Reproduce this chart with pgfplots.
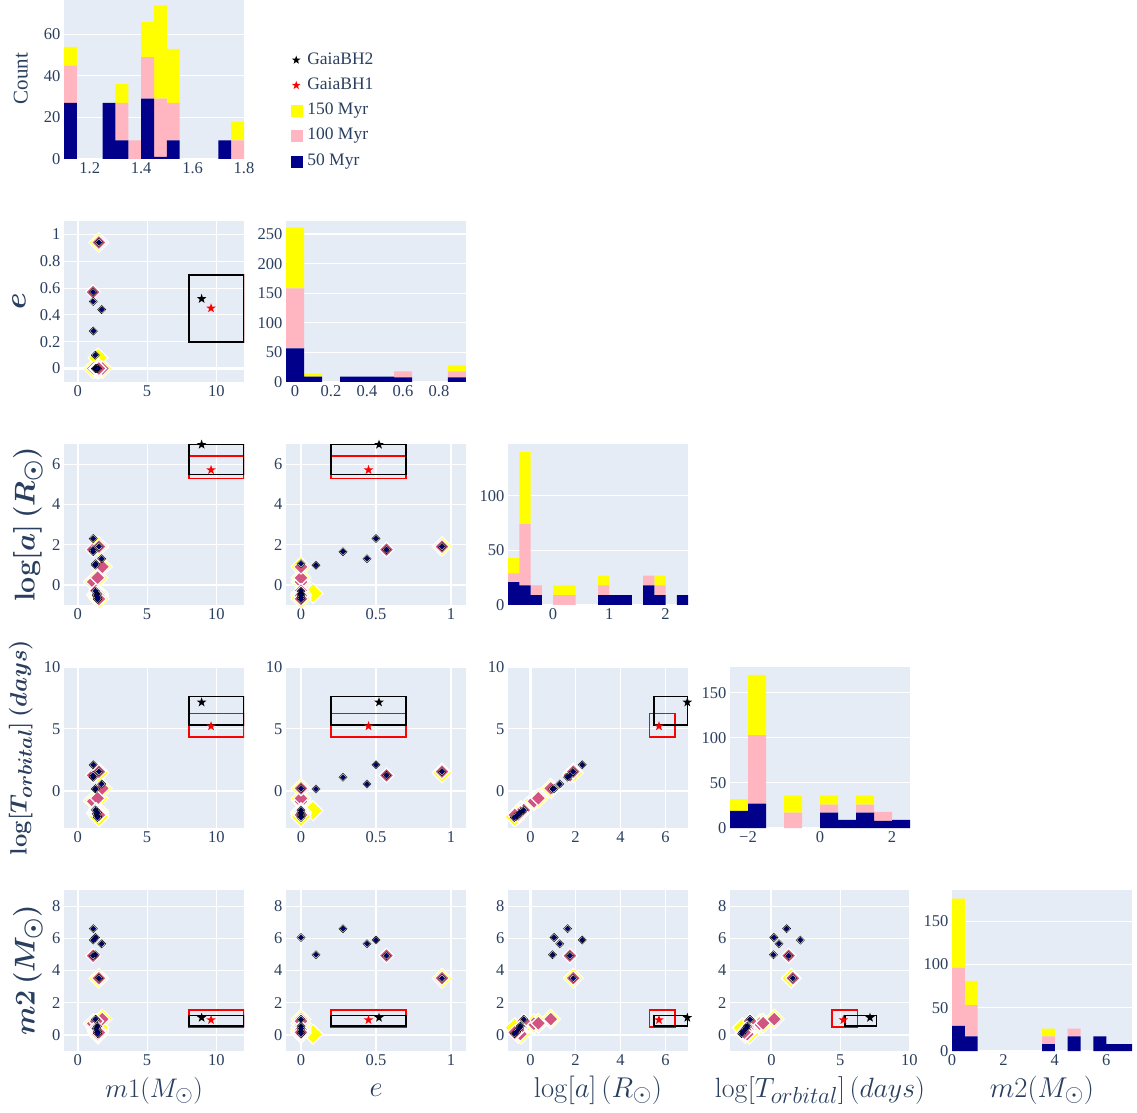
\documentclass[border=0pt]{standalone}
\usepackage{graphicx}
\usepackage[no-math]{fontspec}
\setmainfont{Liberation Serif}
\usepackage{pgfplots}
\pgfplotsset{compat=1.18}
\usepackage{pgfplotstable}
\definecolor{bg}{HTML}{E5ECF6}
\definecolor{tc}{HTML}{2A3F5F}
\definecolor{nv}{HTML}{00008B}
\definecolor{lp}{HTML}{FFB6C1}
\definecolor{yl}{HTML}{FFFF00}
\definecolor{pk}{RGB}{210,84,128}
\definecolor{nvs}{HTML}{000080}

\pgfdeclareplotmark{fstar}{%
  \pgfpathmoveto{\pgfpointpolar{90}{\pgfplotmarksize}}%
  \pgfpathlineto{\pgfpointpolar{126}{0.4\pgfplotmarksize}}%
  \pgfpathlineto{\pgfpointpolar{162}{\pgfplotmarksize}}%
  \pgfpathlineto{\pgfpointpolar{198}{0.4\pgfplotmarksize}}%
  \pgfpathlineto{\pgfpointpolar{234}{\pgfplotmarksize}}%
  \pgfpathlineto{\pgfpointpolar{270}{0.4\pgfplotmarksize}}%
  \pgfpathlineto{\pgfpointpolar{306}{\pgfplotmarksize}}%
  \pgfpathlineto{\pgfpointpolar{342}{0.4\pgfplotmarksize}}%
  \pgfpathlineto{\pgfpointpolar{18}{\pgfplotmarksize}}%
  \pgfpathlineto{\pgfpointpolar{54}{0.4\pgfplotmarksize}}%
  \pgfpathclose\pgfusepathqfill}

% scatter data: m1 e la(log a) lt(log T) m2
\pgfplotstableread{
m1 e la lt m2
1.12 0.28 1.65 1.10 6.60
1.11 0.50 2.30 2.10 5.89
1.72 0.44 1.30 0.55 5.66
1.26 0.10 0.98 0.15 4.98
1.28 0.00 1.05 0.18 6.05
1.10 0.57 1.75 1.25 4.92
1.52 0.94 1.90 1.55 3.52
1.27 0.00 -0.30 -1.55 0.97
1.42 0.00 -0.45 -1.75 0.54
1.33 0.00 -0.50 -1.85 0.40
1.43 0.00 -0.62 -2.05 0.20
1.42 0.00 -0.72 -2.15 0.08
}\navy
\pgfplotstableread{
m1 e la lt m2
1.10 0.57 1.75 1.25 4.92
1.52 0.94 1.90 1.55 3.52
1.12 0.00 0.15 -0.85 0.70
1.43 0.00 0.35 -0.60 0.72
1.77 0.00 0.90 0.20 0.98
1.32 0.00 -0.30 -1.55 0.85
1.33 0.00 -0.45 -1.70 0.45
1.37 0.00 -0.50 -1.75 0.35
1.42 0.00 -0.50 -1.80 0.20
1.46 0.00 -0.55 -1.85 0.10
1.47 0.00 -0.45 -1.75 0.05
1.48 0.00 -0.55 -1.90 0.30
1.52 0.00 -0.70 -1.95 0.15
}\pink
\pgfplotstableread{
m1 e la lt m2
1.52 0.94 1.90 1.45 3.52
1.12 0.00 0.15 -0.80 0.70
1.47 0.00 0.35 -0.60 0.72
1.77 0.00 0.90 0.20 0.98
1.33 0.00 -0.50 -1.80 0.40
1.42 0.00 -0.55 -1.85 0.30
1.44 0.00 -0.45 -1.70 0.20
1.46 0.08 -0.42 -1.60 0.05
1.47 0.00 -0.50 -1.75 0.15
1.48 0.00 -0.55 -1.90 0.10
1.49 0.00 -0.45 -1.70 0.35
1.51 0.00 -0.58 -1.90 0.25
1.53 0.00 -0.70 -2.10 0.45
}\yell
\pgfplotstableread{
m1 e la lt m2
9.62 0.45 5.71 5.22 0.93
}\bha
\pgfplotstableread{
m1 e la lt m2
8.94 0.52 6.97 7.15 1.07
}\bhb

% histograms: bin centre, 50 Myr, 100 Myr, 150 Myr
\pgfplotstableread{
x n p y
1.125 27 18 9
1.175 0 0 0
1.225 0 0 0
1.275 27 0 0
1.325 9 18 9
1.375 0 9 0
1.425 29 20 17
1.475 1 28 45
1.525 9 18 26
1.575 0 0 0
1.625 0 0 0
1.675 0 0 0
1.725 9 0 0
1.775 0 9 9
}\hma
\pgfplotstableread{
x n p y
0.0 57 101 103
0.1 9 0 5
0.2 0 0 0
0.3 9 0 0
0.4 9 0 0
0.5 9 0 0
0.6 8 10 0
0.7 0 0 0
0.8 0 0 0
0.9 8 10 10
}\hmb
\pgfplotstableread{
x n p y
-0.7 21 8 14
-0.5 18 56 66
-0.3 9 9 0
-0.1 0 0 0
0.1 0 9 9
0.3 0 9 9
0.5 0 0 0
0.7 0 0 0
0.9 9 9 9
1.1 9 0 0
1.3 9 0 0
1.5 0 0 0
1.7 18 9 0
1.9 9 9 9
2.1 0 0 0
2.3 9 0 0
}\hmc
\pgfplotstableread{
x n p y
-2.25 19 0 13
-1.75 27 76 67
-1.25 0 0 0
-0.75 0 17 19
-0.25 0 0 0
0.25 17 9 10
0.75 9 0 0
1.25 17 9 10
1.75 8 10 0
2.25 9 0 0
}\hmd
\pgfplotstableread{
x n p y
0.25 29 67 80
0.75 17 36 28
1.25 0 0 0
1.75 0 0 0
2.25 0 0 0
2.75 0 0 0
3.25 0 0 0
3.75 8 9 9
4.25 0 0 0
4.75 17 9 0
5.25 0 0 0
5.75 17 0 0
6.25 8 0 0
6.75 8 0 0
}\hme

\pgfplotsset{
 cp/.style={scale only axis, width=180pt, height=161pt, anchor=south west,
   axis background/.style={fill=bg}, axis line style={draw=none},
   major tick length=0pt,
   tick label style={font=\fontsize{16.5}{16.5}\selectfont, text=tc},
   /pgf/number format/assume math mode=true,
   grid style={white, line width=1.1pt},
   xlabel style={at={(axis description cs:0.5,-0.245)}, anchor=center, font=\fontsize{24.88}{24.88}\selectfont, text=tc},
   ylabel style={at={(axis description cs:-0.2,0.5)}, anchor=center, font=\fontsize{24.88}{24.88}\selectfont\boldmath, text=tc}},
 sc/.style={cp, xmajorgrids, ymajorgrids, extra x ticks={0}, extra y ticks={0},
   extra x tick labels={}, extra y tick labels={},
   extra tick style={grid style={white, line width=2.2pt}}},
 hs/.style={cp, ybar stacked, ymajorgrids, xmajorgrids=false, ymin=0},
 xm1/.style={xmin=-1, xmax=12, xtick={0,5,10}},
 xe/.style={xmin=-0.1, xmax=1.1, xtick={0,0.5,1}},
 xla/.style={xmin=-1, xmax=7, xtick={0,2,4,6}},
 xlt/.style={xmin=-3, xmax=10.05, xtick={0,5,10}},
 ye/.style={ymin=-0.1, ymax=1.1, ytick={0,0.2,0.4,0.6,0.8,1}},
 yla/.style={ymin=-1, ymax=7, ytick={0,2,4,6}},
 ylt/.style={ymin=-3, ymax=10, ytick={0,5,10}},
 ym2/.style={ymin=-1, ymax=9, ytick={0,2,4,6,8}},
}

\newcommand{\scat}[2]{%
 \addplot[only marks, mark=square*, mark size=7pt, mark options={rotate=45, fill=yl, draw=white, line width=1.2pt}] table[x=#1,y=#2]{\yell};
 \addplot[only marks, mark=square*, mark size=5.2pt, mark options={rotate=45, fill=pk, draw=white, line width=1.2pt}] table[x=#1,y=#2]{\pink};
 \addplot[only marks, mark=square*, mark size=2.9pt, mark options={rotate=45, fill=white, draw=none}] table[x=#1,y=#2]{\navy};
 \addplot[only marks, mark=square*, mark size=1.9pt, mark options={rotate=45, fill=nvs, draw=none}] table[x=#1,y=#2]{\navy};}
\newcommand{\bx}[5]{\addplot[#1, line width=1.8pt, no marks, line join=miter, line cap=rect] coordinates {(#2,#4)(#3,#4)(#3,#5)(#2,#5)(#2,#4)};}
\newcommand{\gaia}[2]{%
 \addplot[only marks, mark=fstar, mark size=5pt, color=red] table[x=#1,y=#2]{\bha};
 \addplot[only marks, mark=fstar, mark size=5pt, color=black] table[x=#1,y=#2]{\bhb};}
\newcommand{\hist}[1]{%
 \addplot[fill=nv, draw=none, forget plot] table[x=x,y=n]{#1};
 \addplot[fill=lp, draw=none, forget plot] table[x=x,y=p]{#1};
 \addplot[fill=yl, draw=none, forget plot] table[x=x,y=y]{#1};}
\newcommand{\lspace}{\path[draw=none, fill=none] (0cm,0pt) rectangle (0.62cm,0pt);}

\begin{document}
\begin{tikzpicture}
\useasboundingbox (0,0) rectangle (1137pt,1112pt);

% ---------- row 1
\begin{axis}[hs, at={(64pt,953pt)}, xmin=1.1, xmax=1.8, ymax=77.5,
  xtick={1.2,1.4,1.6,1.8}, ytick={0,20,40,60}, bar width=0.05,
  ylabel={Count}, ylabel style={font=\fontsize{21}{21}\selectfont, at={(axis description cs:-0.24,0.5)}},
  legend style={at={(axis description cs:1.225,0.69)}, anchor=north west, draw=none, fill=none,
    font=\fontsize{17.5}{17.5}\selectfont, text=tc, row sep=5.3pt,
    nodes={inner sep=2pt, text height=12pt, text depth=4pt}},
  legend cell align=left]
\hist{\hma}
\addlegendimage{legend image code/.code={\lspace\path[color=black] plot[only marks, mark=fstar, mark size=4.5pt] coordinates {(0.3cm,0cm)};}}
\addlegendentry{GaiaBH2}
\addlegendimage{legend image code/.code={\lspace\path[color=red] plot[only marks, mark=fstar, mark size=4.5pt] coordinates {(0.3cm,0cm)};}}
\addlegendentry{GaiaBH1}
\addlegendimage{legend image code/.code={\lspace\fill[yl] (0.3cm,0pt) ++(-5.5pt,-5.5pt) rectangle ++(11pt,11pt);}}
\addlegendentry{150 Myr}
\addlegendimage{legend image code/.code={\lspace\fill[lp] (0.3cm,0pt) ++(-5.5pt,-5.5pt) rectangle ++(11pt,11pt);}}
\addlegendentry{100 Myr}
\addlegendimage{legend image code/.code={\lspace\fill[nv] (0.3cm,0pt) ++(-5.5pt,-5.5pt) rectangle ++(11pt,11pt);}}
\addlegendentry{50 Myr}
\end{axis}

% ---------- row 2
\begin{axis}[sc, xm1, ye, at={(64pt,730pt)}, ylabel={\scalebox{1.2}{$e$}}, ylabel style={at={(axis description cs:-0.25,0.5)}}]
\scat{m1}{e}
\bx{red}{8}{11.98}{0.2}{0.7}
\bx{black}{8}{11.98}{0.2}{0.7}
\gaia{m1}{e}
\end{axis}
\begin{axis}[hs, at={(286pt,730pt)}, xmin=-0.05, xmax=0.95, ymax=272,
  xtick={0,0.2,0.4,0.6,0.8}, ytick={0,50,100,150,200,250}, bar width=0.1]
\hist{\hmb}
\end{axis}

% ---------- row 3
\begin{axis}[sc, xm1, yla, at={(64pt,507pt)}, ylabel={\scalebox{1.15}{$\log[a]\,(R_\odot)$}}]
\scat{m1}{la}
\bx{red}{8}{11.98}{5.29}{6.42}
\bx{black}{8}{11.98}{5.48}{6.98}
\gaia{m1}{la}
\end{axis}
\begin{axis}[sc, xe, yla, at={(286pt,507pt)}]
\scat{e}{la}
\bx{red}{0.2}{0.7}{5.29}{6.42}
\bx{black}{0.2}{0.7}{5.48}{6.98}
\gaia{e}{la}
\end{axis}
\begin{axis}[hs, at={(508pt,507pt)}, xmin=-0.8, xmax=2.4, ymax=147.5,
  xtick={0,1,2}, ytick={0,50,100}, bar width=0.2]
\hist{\hmc}
\end{axis}

% ---------- row 4
\begin{axis}[sc, xm1, ylt, at={(64pt,284pt)}, ylabel={\scalebox{0.95}{$\log[T_{orbital}]\,(days)$}},
  ylabel style={at={(axis description cs:-0.24,0.5)}}]
\scat{m1}{lt}
\bx{red}{8}{11.98}{4.38}{6.24}
\bx{black}{8}{11.98}{5.32}{7.62}
\gaia{m1}{lt}
\end{axis}
\begin{axis}[sc, xe, ylt, at={(286pt,284pt)}]
\scat{e}{lt}
\bx{red}{0.2}{0.7}{4.38}{6.24}
\bx{black}{0.2}{0.7}{5.32}{7.62}
\gaia{e}{lt}
\end{axis}
\begin{axis}[sc, xla, ylt, at={(508pt,284pt)}]
\scat{la}{lt}
\bx{red}{5.29}{6.42}{4.38}{6.24}
\bx{black}{5.48}{6.98}{5.32}{7.62}
\gaia{la}{lt}
\end{axis}
\begin{axis}[hs, at={(730pt,284pt)}, xmin=-2.5, xmax=2.5, ymax=178.6,
  xtick={-2,0,2}, xticklabels={−2,0,2}, ytick={0,50,100,150}, bar width=0.5]
\hist{\hmd}
\end{axis}

% ---------- row 5
\begin{axis}[sc, xm1, ym2, at={(64pt,61pt)}, ylabel={\scalebox{1.15}{$m2\,(M_\odot)$}}, xlabel={\scalebox{1.08}{$m1(M_\odot)$}}]
\scat{m1}{m2}
\bx{red}{8}{11.98}{0.5}{1.53}
\bx{black}{8}{11.98}{0.53}{1.2}
\gaia{m1}{m2}
\end{axis}
\begin{axis}[sc, xe, ym2, at={(286pt,61pt)}, xlabel={\scalebox{1.15}{$e$}}]
\scat{e}{m2}
\bx{red}{0.2}{0.7}{0.5}{1.53}
\bx{black}{0.2}{0.7}{0.53}{1.2}
\gaia{e}{m2}
\end{axis}
\begin{axis}[sc, xla, ym2, at={(508pt,61pt)}, xlabel={\scalebox{1.15}{$\log[a]\,(R_\odot)$}}]
\scat{la}{m2}
\bx{red}{5.29}{6.42}{0.5}{1.53}
\bx{black}{5.48}{6.98}{0.53}{1.2}
\gaia{la}{m2}
\end{axis}
\begin{axis}[sc, xlt, ym2, at={(730pt,61pt)}, xlabel={\scalebox{1.12}{$\log[T_{orbital}]\,(days)$}}]
\scat{lt}{m2}
\bx{red}{4.38}{6.24}{0.5}{1.53}
\bx{black}{5.32}{7.62}{0.53}{1.2}
\gaia{lt}{m2}
\end{axis}
\begin{axis}[hs, at={(952pt,61pt)}, xmin=0, xmax=7, ymax=186,
  xtick={0,2,4,6}, ytick={0,50,100,150}, bar width=0.5, xlabel={\scalebox{1.15}{$m2(M_\odot)$}}]
\hist{\hme}
\end{axis}
\end{tikzpicture}
\end{document}
